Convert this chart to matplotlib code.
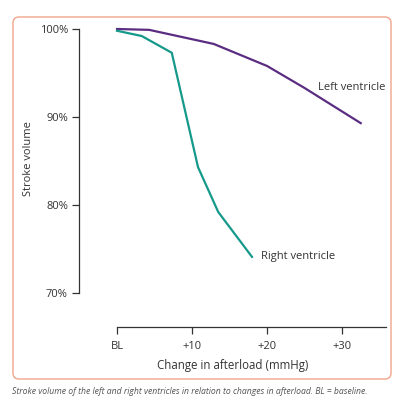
import matplotlib.pyplot as plt
from matplotlib.patches import FancyBboxPatch

plt.rcParams['font.family'] = ['Open Sans', 'DejaVu Sans']

# data (change in afterload, mmHg -> stroke volume, %)
lv_x = [0, 4.3, 12.9, 20, 25, 32.5]
lv_y = [100, 99.9, 98.3, 95.8, 93.3, 89.3]
rv_x = [0, 3.3, 7.3, 10.8, 13.5, 18]
rv_y = [99.8, 99.2, 97.3, 84.3, 79.2, 74.1]

x_ticks = [0, 10, 20, 30]
x_labels = ["BL", "+10", "+20", "+30"]
y_ticks = [70, 80, 90, 100]
y_labels = ["70%", "80%", "90%", "100%"]

purple = "#5b2d82"
teal = "#15998a"
dark = "#333333"

fig = plt.figure(figsize=(4, 4), dpi=100)

# rounded frame round the chart
frame = FancyBboxPatch((13 / 400, 21 / 400), 378 / 400, 362 / 400,
                       boxstyle="round,pad=0,rounding_size=0.015",
                       transform=fig.transFigure, fill=False,
                       edgecolor="#f2a48a", lw=1.0)
fig.patches.append(frame)

ax = fig.add_axes([79 / 400, 73 / 400, 307 / 400, 301 / 400])
ax.set_xlim(-5.07, 35.87)
ax.set_ylim(66.13, 100.34)

ax.plot(lv_x, lv_y, color=purple, lw=1.6, clip_on=False, solid_joinstyle="miter")
ax.plot(rv_x, rv_y, color=teal, lw=1.6, clip_on=False, solid_joinstyle="miter")

ax.text(26.8, 93.4, "Left ventricle", fontsize=8, color=dark, ha="left", va="center")
ax.text(19.2, 74.1, "Right ventricle", fontsize=8, color=dark, ha="left", va="center")

for s in ["top", "right"]:
    ax.spines[s].set_visible(False)
ax.spines["left"].set_bounds(70, 100)
ax.spines["bottom"].set_bounds(0, 35.87)
for s in ["left", "bottom"]:
    ax.spines[s].set_color(dark)
    ax.spines[s].set_linewidth(0.9)

ax.set_xticks(x_ticks)
ax.set_xticklabels(x_labels)
ax.set_yticks(y_ticks)
ax.set_yticklabels(y_labels)
ax.tick_params(axis="both", direction="out", length=5, width=0.9, color=dark,
               labelsize=8, labelcolor=dark)
ax.tick_params(axis="x", pad=5)
ax.tick_params(axis="y", pad=3)

ax.set_xlabel("Change in afterload (mmHg)", fontsize=8.3, color=dark, labelpad=5)
ax.set_ylabel("Stroke volume", fontsize=8, color=dark)
ax.yaxis.set_label_coords(-0.147, 0.56)

fig.text(12 / 400, 1 - 392 / 400,
         "Stroke volume of the left and right ventricles in relation to changes in afterload. BL = baseline.",
         fontsize=6.2, style="italic", color="#555555", ha="left", va="center")

fig.savefig("out.png", dpi=100)
